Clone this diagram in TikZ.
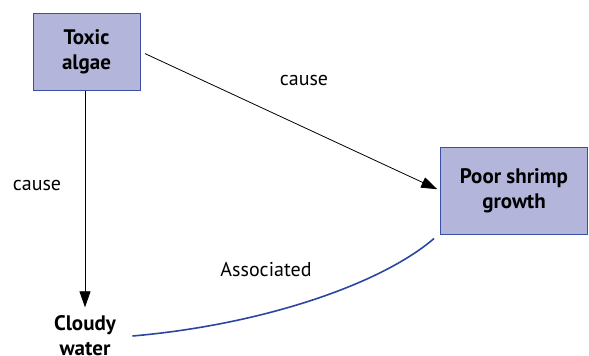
\documentclass[tikz,border=0pt]{standalone}
\usepackage{fontspec}
\setmainfont{PT Sans}
\usetikzlibrary{arrows.meta}
\definecolor{boxfill}{HTML}{B3B5DB}
\definecolor{boxedge}{HTML}{3A50A8}
\definecolor{assocblue}{HTML}{2B45A0}
\begin{document}
\begin{tikzpicture}[x=1pt,y=-1pt,
  concept/.style={draw=boxedge, line width=1pt, fill=boxfill, align=center,
    font=\fontsize{21}{25}\selectfont\bfseries, inner sep=0pt},
  plain/.style={align=center, font=\fontsize{21}{25}\selectfont\bfseries},
  lbl/.style={font=\fontsize{20}{24}\selectfont},
  causearrow/.style={line width=0.8pt, -{Triangle[length=16pt,width=11pt]}},
  assoc/.style={draw=assocblue, line width=1.6pt}]
  \useasboundingbox (0,0) rectangle (589,356);
  % concept boxes
  \node[concept, minimum width=107pt, minimum height=77pt] (toxic) at (86.5,51.5) {Toxic\\algae};
  \node[concept, minimum width=147pt, minimum height=87pt] (shrimp) at (514,190.5) {Poor shrimp\\growth};
  \node[plain] (cloudy) at (85,336) {Cloudy\\water};
  % causal links
  \draw[causearrow, shorten <=5pt, shorten >=3pt] (toxic.east) -- (shrimp.west);
  \draw[causearrow] (toxic.south -| cloudy.north) -- ([yshift=5pt]cloudy.north);
  % association link
  \draw[assoc] ([xshift=13pt]cloudy.east) .. controls (260,325) and (380,285) .. ([shift={(-6,4)}]shrimp.south west);
  % labels
  \node[lbl] (c1) at (304,80) {cause};
  \node[lbl] (c2) at (37,185) {cause};
  \node[lbl] (as) at (266,270) {Associated};
\end{tikzpicture}
\end{document}
